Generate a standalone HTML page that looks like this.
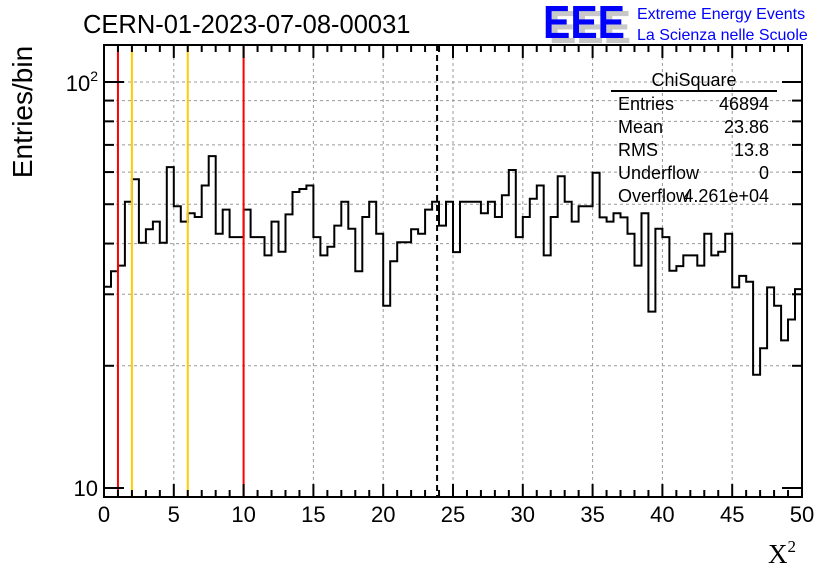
<!DOCTYPE html>
<html><head><meta charset="utf-8"><style>
body{margin:0;background:#fff;}
svg{display:block;font-family:"Liberation Sans",sans-serif;}
</style></head><body>
<svg id="c" width="836" height="572" viewBox="0 0 836 572" xmlns="http://www.w3.org/2000/svg">
<text x="83" y="33" font-size="25.5">CERN-01-2023-07-08-00031</text>
<g>
<text x="549" y="43" font-size="46" font-weight="bold" fill="#c8c8c8" textLength="82" lengthAdjust="spacingAndGlyphs">EEE</text>
<text x="543" y="38" font-size="46" font-weight="bold" fill="#0000ff" textLength="82" lengthAdjust="spacingAndGlyphs">EEE</text>
<text x="637" y="19" font-size="16" fill="#0000ff">Extreme Energy Events</text>
<text x="637" y="40" font-size="16" fill="#0000ff">La Scienza nelle Scuole</text>
</g>
<text transform="translate(32,112) rotate(-90)" font-size="28" text-anchor="middle">Entries/bin</text>
<text x="768" y="563" font-size="27" font-family="Liberation Serif,serif">X<tspan font-size="17" dy="-11">2</tspan></text>
<g id="grid"></g><g id="marks"></g><g id="axes"></g>
<g font-size="18">
<text x="694" y="86" text-anchor="middle">ChiSquare</text>
<line x1="611" y1="91" x2="777" y2="91" stroke="#000" stroke-width="2"/>
<text x="618" y="110">Entries</text><text x="769" y="110" text-anchor="end">46894</text>
<text x="618" y="133">Mean</text><text x="769" y="133" text-anchor="end">23.86</text>
<text x="618" y="156">RMS</text><text x="769" y="156" text-anchor="end">13.8</text>
<text x="618" y="179">Underflow</text><text x="769" y="179" text-anchor="end">0</text>
<text x="618" y="202">Overflow</text><text x="769" y="202" text-anchor="end">4.261e+04</text>
</g>
</svg>
<script>
const counts=[31.3,34.2,35.3,50.7,57.6,40.2,43.4,45.3,40.2,61.7,49.4,45.3,47.5,46.5,55.6,65.7,42.3,48.5,41.5,41.5,
48.5,41.5,41.5,37.4,45.3,38.2,47.2,53.6,54.5,55.6,41.5,37.4,39.3,44.3,50.7,43.5,34.2,46.5,50.7,42.3,
28.1,36.2,40.3,40.3,43.4,42.3,48.5,50.7,44.3,50.7,38.1,50.7,50.7,50.7,47.5,50.7,46.5,52.6,60.7,41.5,
46.5,51.6,55.6,37.4,46.5,58.6,50.7,45.3,49.4,49.4,59.8,46.4,45.3,47.5,46.4,42.3,35.3,47.5,27.2,43.5,
41.5,34.3,35.2,37.4,37.4,35.3,42.3,37.4,38.2,42.3,31.2,33.3,32.2,19.0,22.1,31.2,28.1,23.1,26.0,30.9];
const xTicks=[0,5,10,15,20,25,30,35,40,45,50];
const yGrid=[20,30,40,50,60,70,80,90,100];
const redLines=[1,10];
const orangeLines=[2,6];
const meanLine=[23.86];
const xMin=0,xMax=50,binW=0.5;
const L=104,R=802,T=45,B=497;
const X=v=>L+(v-xMin)/(xMax-xMin)*(R-L);
const Y=v=>488-Math.log10(v/10)*406;
const NS='http://www.w3.org/2000/svg';
function mk(p,t,a){const e=document.createElementNS(NS,t);for(const k in a)e.setAttribute(k,a[k]);document.getElementById(p).appendChild(e);return e;}
for(const t of xTicks.slice(1,-1)){const g=mk('grid','line',{x1:X(t),x2:X(t),y1:T,y2:B,stroke:'#999','stroke-dasharray':'3,3'});

}
for(const v of yGrid){const g=mk('grid','line',{x1:L,x2:R,y1:Y(v),y2:Y(v),stroke:'#999','stroke-dasharray':'3,3'});

}
let d='M'+X(0)+' '+B;
counts.forEach((c,i)=>{d+=' V'+Y(c).toFixed(1)+' H'+X((i+1)*binW).toFixed(1);});
d+=' V'+B;
const h=mk('marks','path',{d:d,fill:'none',stroke:'#000','stroke-width':2});


for(const v of redLines){const l=mk('marks','line',{x1:X(v),x2:X(v),y1:T,y2:B,stroke:'#ff0000','stroke-width':2});

}
for(const v of orangeLines){const l=mk('marks','line',{x1:X(v),x2:X(v),y1:T,y2:B,stroke:'#ffcc00','stroke-width':2});

}
for(const v of meanLine){const l=mk('marks','line',{x1:X(v),x2:X(v),y1:T,y2:B,stroke:'#000','stroke-width':2,'stroke-dasharray':'6,4'});

}
const f=mk('axes','rect',{x:L,y:T,width:R-L,height:B-T,fill:'none',stroke:'#000','stroke-width':2});


for(let v=xMin;v<=xMax;v++){const len=v%5===0?13:7;
mk('axes','line',{x1:X(v),x2:X(v),y1:B,y2:B-len,stroke:'#000','stroke-width':2});
mk('axes','line',{x1:X(v),x2:X(v),y1:T,y2:T+len,stroke:'#000','stroke-width':2});}
for(const t of xTicks){const tx=mk('axes','text',{x:X(t),y:522,'font-size':22,'text-anchor':'middle'});tx.textContent=t;

}
for(const v of [10,20,30,40,50,60,70,80,90,100]){const len=(v===10||v===100)?20:10;
mk('axes','line',{x1:L,x2:L+len,y1:Y(v),y2:Y(v),stroke:'#000','stroke-width':2});
mk('axes','line',{x1:R,x2:R-len,y1:Y(v),y2:Y(v),stroke:'#000','stroke-width':2});}
const y1=mk('axes','text',{x:98,y:Y(10)+8,'font-size':22,'text-anchor':'end'});y1.textContent='10';


const y2=mk('axes','text',{x:98,y:Y(100)+9,'font-size':22,'text-anchor':'end'});y2.innerHTML='10<tspan font-size="14" dy="-10">2</tspan>';


</script>
</body></html>
